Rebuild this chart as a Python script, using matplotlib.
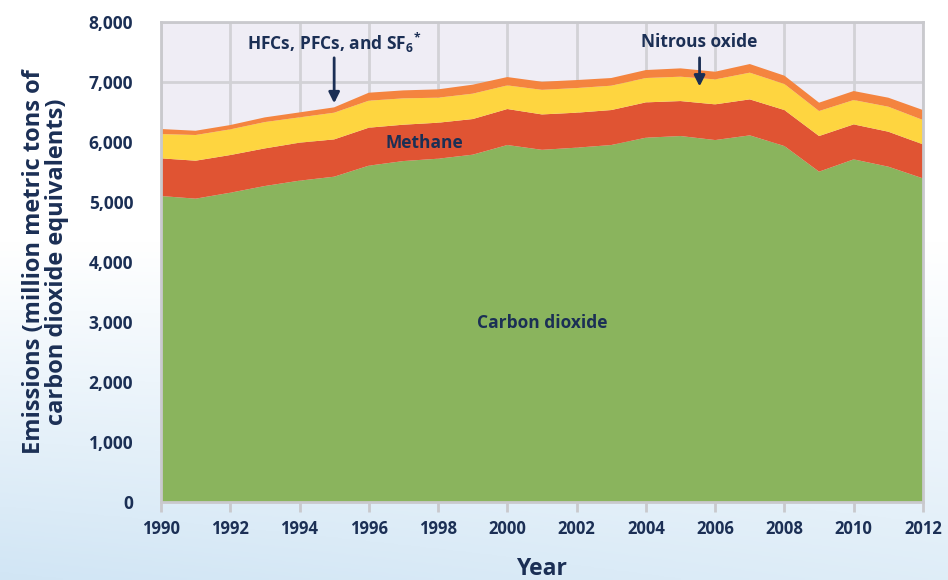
import numpy as np
import matplotlib
matplotlib.use("Agg")
import matplotlib.pyplot as plt

years = list(range(1990, 2013))
carbon_dioxide = [5100, 5056, 5155, 5267, 5356, 5422, 5606, 5683, 5722, 5789, 5950, 5870,
                  5906, 5950, 6072, 6100, 6033, 6111, 5933, 5506, 5711, 5589, 5394]
methane = [628, 633, 628, 627, 633, 622, 633, 606, 600, 594, 600, 590,
           583, 583, 589, 583, 595, 600, 600, 594, 583, 583, 567]
nitrous_oxide = [405, 428, 428, 439, 422, 445, 450, 439, 417, 423, 394, 410,
                 411, 406, 406, 406, 416, 445, 434, 417, 406, 417, 406]
hfc_pfc_sf6 = [84, 71, 72, 78, 83, 89, 133, 133, 139, 150, 139, 135,
               133, 128, 133, 139, 128, 144, 139, 139, 150, 150, 166]

x_ticks = list(range(1990, 2013, 2))
y_ticks = list(range(0, 8001, 1000))

NAVY = "#1b2f55"
GRID = "#d2d2d6"

plt.rcParams['font.family'] = ['Open Sans', 'DejaVu Sans']
plt.rcParams['mathtext.fontset'] = 'custom'
plt.rcParams['mathtext.rm'] = 'Open Sans:bold'
plt.rcParams['mathtext.it'] = 'Open Sans:bold'
plt.rcParams['mathtext.bf'] = 'Open Sans:bold'

fig = plt.figure(figsize=(9.48, 5.8), dpi=100)

# soft background gradient (white top, pale blue bottom)
bg = fig.add_axes([0, 0, 1, 1], zorder=-10)
yy = np.linspace(0, 1, 200)[:, None]
xx = np.linspace(0, 1, 300)[None, :]
t = np.clip((yy - 0.42) / 0.58, 0, 1) * (1 - 0.3 * xx)
top = np.array([1.0, 1.0, 1.0])
bot = np.array([0.82, 0.90, 0.96])
img = top[None, None, :] * (1 - t[..., None]) + bot[None, None, :] * t[..., None]
bg.imshow(img, aspect='auto', extent=[0, 1, 0, 1], origin='upper')
bg.set_axis_off()

ax = fig.add_axes([0.1698, 0.1345, 0.8038, 0.8275])
ax.set_facecolor("#efedf5")
ax.stackplot(years, carbon_dioxide, methane, nitrous_oxide, hfc_pfc_sf6,
             colors=["#8ab45d", "#e05433", "#fed540", "#f4843f"], zorder=2,
             linewidth=0)

ax.set_xlim(1990, 2012)
ax.set_ylim(0, 8000)
ax.set_xticks(x_ticks)
ax.set_yticks(y_ticks)
ax.set_yticklabels([f"{v:,}" for v in y_ticks])
ax.grid(True, color=GRID, linewidth=2, zorder=0)
ax.set_axisbelow(True)
for s in ax.spines.values():
    s.set_color("#c9c9cd")
    s.set_linewidth(2)
ax.tick_params(axis='x', direction='out', length=7, width=2, color="#c9c9cd",
               labelsize=12, labelcolor=NAVY, pad=6)
ax.tick_params(axis='y', length=0, labelsize=12.5, labelcolor=NAVY, pad=20)
for lab in ax.get_xticklabels() + ax.get_yticklabels():
    lab.set_fontweight('bold')

ax.set_xlabel("Year", fontsize=16.5, fontweight='bold', color=NAVY, labelpad=14)
ax.set_ylabel("Emissions (million metric tons of\ncarbon dioxide equivalents)",
              fontsize=17, fontweight='bold', color=NAVY, labelpad=14, linespacing=0.95)

tk = dict(color=NAVY, fontsize=12.5, fontweight='bold', ha='center', va='center', zorder=5)
ax.text(1995.0, 7660, r"HFCs, PFCs, and SF$_{6}{}^{*}$", **tk)
ax.annotate("", xy=(1995.0, 6600), xytext=(1995.0, 7450),
            arrowprops=dict(arrowstyle='-|>', color=NAVY, lw=2, mutation_scale=16), zorder=5)
ax.text(2005.55, 7670, "Nitrous oxide", **tk)
ax.annotate("", xy=(2005.55, 6880), xytext=(2005.55, 7450),
            arrowprops=dict(arrowstyle='-|>', color=NAVY, lw=2, mutation_scale=16), zorder=5)
ax.text(1997.6, 5990, "Methane", **tk)
ax.text(2001.0, 2980, "Carbon dioxide", **tk)

fig.savefig("out.png", dpi=100)
